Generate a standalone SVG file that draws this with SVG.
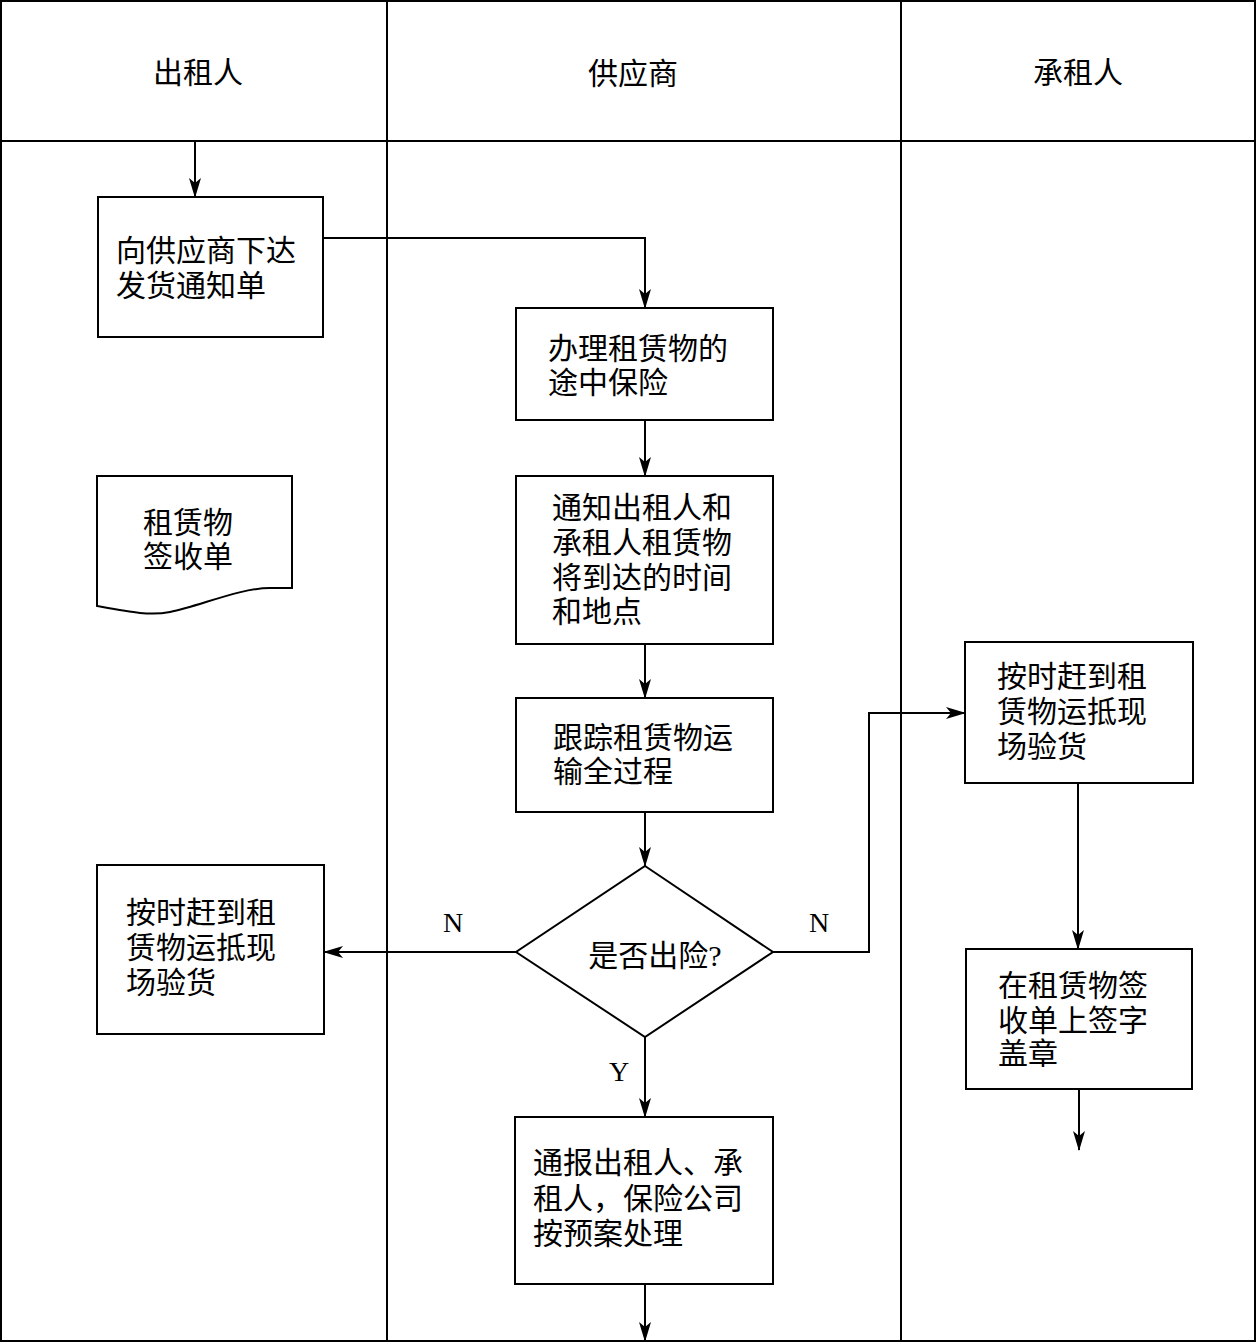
<svg xmlns="http://www.w3.org/2000/svg" width="1257" height="1343" viewBox="0 0 1257 1343">
<style>
.ln{fill:none;stroke:#000;stroke-width:2}
.bx{fill:#fff;stroke:#000;stroke-width:2}
.t{font-family:"Liberation Serif","Noto Sans CJK SC",sans-serif;font-size:30px;fill:#000;dominant-baseline:central}
.h{text-anchor:middle}
.l{font-family:"Liberation Serif",serif;font-size:28px;fill:#000;text-anchor:middle;dominant-baseline:central}
</style>
<defs>
<marker id="ar" markerWidth="20" markerHeight="12" refX="19" refY="6" orient="auto" markerUnits="userSpaceOnUse">
<path d="M0,0 L20,6 L0,12 L5,6 Z" fill="#000"/>
</marker>
</defs>
<rect width="1257" height="1343" fill="#fff"/>
<g id="lanes">
<rect x="1" y="1" width="1254" height="1340" class="ln"/>
<line x1="1" y1="141" x2="1255" y2="141" class="ln"/>
<line x1="387" y1="1" x2="387" y2="1341" class="ln"/>
<line x1="901" y1="1" x2="901" y2="1341" class="ln"/>
<text x="198" y="72" class="t h">出租人</text>
<text x="633" y="73" class="t h">供应商</text>
<text x="1078" y="72" class="t h">承租人</text>
</g>
<g id="connectors">
<line x1="195" y1="141" x2="195" y2="197" class="ln" marker-end="url(#ar)"/>
<polyline points="323,238 645,238 645,308" class="ln" marker-end="url(#ar)"/>
<line x1="645" y1="420" x2="645" y2="476" class="ln" marker-end="url(#ar)"/>
<line x1="645" y1="644" x2="645" y2="698" class="ln" marker-end="url(#ar)"/>
<line x1="645" y1="812" x2="645" y2="866" class="ln" marker-end="url(#ar)"/>
<line x1="516" y1="952" x2="324" y2="952" class="ln" marker-end="url(#ar)"/>
<polyline points="773,952 869,952 869,713 965,713" class="ln" marker-end="url(#ar)"/>
<line x1="645" y1="1037" x2="645" y2="1117" class="ln" marker-end="url(#ar)"/>
<line x1="645" y1="1284" x2="645" y2="1341" class="ln" marker-end="url(#ar)"/>
<line x1="1078" y1="783" x2="1078" y2="949" class="ln" marker-end="url(#ar)"/>
<line x1="1079" y1="1089" x2="1079" y2="1150" class="ln" marker-end="url(#ar)"/>
<text x="453" y="922" class="l">N</text>
<text x="819" y="922" class="l">N</text>
<text x="619" y="1071" class="l">Y</text>
</g>
<g id="n1">
<rect x="98" y="197" width="225" height="140" class="bx"/>
<text x="116" y="250" class="t">向供应商下达<tspan x="116" dy="35">发货通知单</tspan></text>
</g>
<g id="n2">
<rect x="516" y="308" width="257" height="112" class="bx"/>
<text x="548" y="348" class="t">办理租赁物的<tspan x="548" dy="34">途中保险</tspan></text>
</g>
<g id="n3">
<rect x="516" y="476" width="257" height="168" class="bx"/>
<text x="552" y="507" class="t">通知出租人和<tspan x="552" dy="35">承租人租赁物</tspan><tspan x="552" dy="35">将到达的时间</tspan><tspan x="552" dy="34">和地点</tspan></text>
</g>
<g id="n4">
<rect x="516" y="698" width="257" height="114" class="bx"/>
<text x="553" y="737" class="t">跟踪租赁物运<tspan x="553" dy="34">输全过程</tspan></text>
</g>
<g id="n5">
<polygon points="645,866 773,952 645,1037 516,952" class="bx"/>
<text x="655" y="955" class="t h">是否出险?</text>
</g>
<g id="n6">
<rect x="515" y="1117" width="258" height="167" class="bx"/>
<text x="533" y="1162" class="t">通报出租人、承<tspan x="533" dy="36">租人，保险公司</tspan><tspan x="533" dy="35">按预案处理</tspan></text>
</g>
<g id="n7">
<path d="M97,476 L292,476 L292,588 L270,588 C240,588 200,606 170,612 C150,616 130,612 97,606 Z" class="bx"/>
<text x="143" y="522" class="t">租赁物<tspan x="143" dy="34">签收单</tspan></text>
</g>
<g id="n8">
<rect x="97" y="865" width="227" height="169" class="bx"/>
<text x="126" y="912" class="t">按时赶到租<tspan x="126" dy="35">赁物运抵现</tspan><tspan x="126" dy="35">场验货</tspan></text>
</g>
<g id="n9">
<rect x="965" y="642" width="228" height="141" class="bx"/>
<text x="997" y="676" class="t">按时赶到租<tspan x="997" dy="35">赁物运抵现</tspan><tspan x="997" dy="35">场验货</tspan></text>
</g>
<g id="n10">
<rect x="966" y="949" width="226" height="140" class="bx"/>
<text x="998" y="985" class="t">在租赁物签<tspan x="998" dy="35">收单上签字</tspan><tspan x="998" dy="33">盖章</tspan></text>
</g>
</svg>
